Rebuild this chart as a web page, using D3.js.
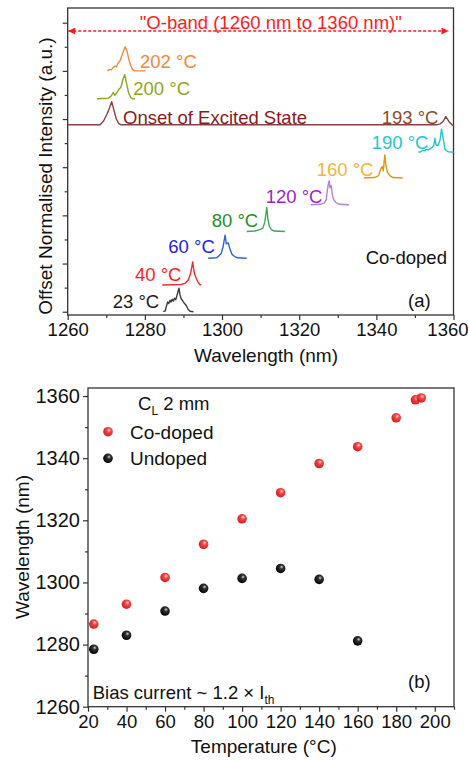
<!DOCTYPE html>
<html>
<head>
<meta charset="utf-8">
<script src="https://cdn.jsdelivr.net/npm/d3@7"></script>
<style>
  html, body { margin: 0; padding: 0; background: #fff; }
  svg { display: block; }
  text { font-family: "Liberation Sans", Arial, sans-serif; }
</style>
</head>
<body>
<svg id="chart" width="469" height="761"></svg>
<script>
// ---------- Panel (a): spectra ----------
const spectraLabels = ["23 °C","40 °C","60 °C","80 °C","120 °C","160 °C","190 °C","193 °C","200 °C","202 °C"];
const spectraOffsets = [0, 0.555, 1.11, 1.665, 2.22, 2.775, 3.31, 3.88, 4.42, 5.0];
const spec23 = [[1284.8,0],[1285.3,0.02],[1285.6,0.12],[1285.9,0.2],[1286.2,0.17],[1286.5,0.24],[1286.8,0.2],[1287.1,0.26],[1287.4,0.22],[1287.7,0.28],[1288.0,0.25],[1288.3,0.33],[1288.6,0.42],[1288.85,0.49],[1289.1,0.36],[1289.4,0.27],[1289.7,0.24],[1290.0,0.2],[1290.4,0.16],[1290.8,0.12],[1291.2,0.05],[1291.7,0.01],[1292.6,0]];
const spec40 = [[1284.5,0],[1289.5,0.01],[1290.5,0.04],[1291.2,0.1],[1291.7,0.2],[1292.0,0.3],[1292.4,0.48],[1292.7,0.3],[1293.0,0.2],[1293.4,0.12],[1293.8,0.06],[1294.2,0.01],[1294.55,0]];
const spec60 = [[1296.4,0],[1298.6,0.01],[1299.2,0.05],[1299.8,0.1],[1300.3,0.25],[1300.8,0.48],[1301.1,0.3],[1301.6,0.32],[1302.1,0.18],[1302.6,0.08],[1303.2,0.04],[1304.0,0.01],[1306.4,0]];
const spec80 = [[1306.4,0],[1308.5,0.01],[1309.8,0.04],[1310.6,0.07],[1311.1,0.2],[1311.6,0.5],[1311.9,0.25],[1312.3,0.1],[1312.8,0.04],[1313.5,0.01],[1316.3,0]];
const spec120 = [[1323.0,0],[1325.5,0.01],[1326.5,0.04],[1327.0,0.1],[1327.3,0.3],[1327.6,0.45],[1327.8,0.5],[1328.0,0.35],[1328.3,0.4],[1328.6,0.2],[1329.0,0.1],[1329.6,0.04],[1330.5,0.01],[1332.9,0]];
const spec160 = [[1336.8,0],[1339.5,0.01],[1340.6,0.05],[1341.2,0.2],[1341.5,0.24],[1341.8,0.15],[1342.2,0.48],[1342.5,0.25],[1342.9,0.12],[1343.5,0.05],[1344.3,0.01],[1346.8,0]];
const spec190 = [[1350.9,0],[1351.5,0.01],[1352.0,0.04],[1352.5,0.03],[1353.0,0.06],[1353.5,0.05],[1354.0,0.08],[1354.5,0.1],[1354.9,0.15],[1355.2,0.29],[1355.5,0.15],[1356.0,0.14],[1356.5,0.25],[1356.9,0.48],[1357.3,0.3],[1357.8,0.06],[1358.6,0.01],[1360,0]];
const spec193 = [[1260,0],[1268.4,0],[1269.3,0.08],[1270.1,0.21],[1270.6,0.3],[1271.4,0.48],[1272.0,0.3],[1272.6,0.12],[1273.2,0.03],[1273.8,0],[1355.5,0],[1356.6,0.02],[1357.4,0.08],[1358.0,0.17],[1358.8,0.07],[1359.5,0.01],[1360,-0.02]];
const spec200 = [[1267.6,0],[1270.5,0.01],[1271.3,0.06],[1271.8,0.13],[1272.2,0.07],[1272.7,0.12],[1273.3,0.2],[1273.8,0.24],[1274.3,0.4],[1274.8,0.5],[1275.3,0.3],[1275.8,0.12],[1276.3,0.03],[1276.8,0],[1277.4,0]];
const spec202 = [[1270.3,0],[1270.8,0.03],[1271.3,0.02],[1271.8,0.07],[1272.3,0.1],[1272.6,0.08],[1273.1,0.17],[1273.5,0.2],[1273.9,0.28],[1274.4,0.4],[1274.9,0.5],[1275.4,0.4],[1275.9,0.22],[1276.4,0.1],[1276.9,0.02],[1277.4,0],[1280.2,0]];
const spectraData = [spec23, spec40, spec60, spec80, spec120, spec160, spec190, spec193, spec200, spec202];
const wavelengthTicksA = [1260, 1280, 1300, 1320, 1340, 1360];

// ---------- Panel (b): peak wavelength vs temperature ----------
const tempCo = [23, 40, 60, 80, 100, 120, 140, 160, 180, 190, 193];
const wlCo   = [1286.6, 1293.0, 1301.6, 1312.3, 1320.5, 1328.9, 1338.3, 1343.7, 1353.0, 1358.8, 1359.4];
const tempUn = [23, 40, 60, 80, 100, 120, 140, 160];
const wlUn   = [1278.5, 1283.0, 1290.8, 1298.1, 1301.3, 1304.5, 1301.0, 1281.2];
const tempTicks = [20, 40, 60, 80, 100, 120, 140, 160, 180, 200];
const wlTicksB = [1260, 1280, 1300, 1320, 1340, 1360];

// ---------- styling ----------
const lineColors  = ["#3c3c3c","#ee2c2c","#2d62e0","#3aa85a","#b67ee0","#d39c12","#22c6c6","#8a4040","#8ea624","#f0883a"];
const labelColors = ["#202020","#ff1e1e","#1e1eee","#1f8f1f","#a01ec8","#f2b440","#22c8c8","#8b4a26","#8ea624","#f0883a"];
const labelPos = [[112.7,301],[135,274],[168.3,246.7],[211.7,220],[265.7,196],[316.7,169.3],[371.7,142.7],[381.7,117],[133.3,88.3],[140,61.7]];

const svg = d3.select("#chart");
const FS = 18.5;

// ===== Panel (a) =====
const xA = d3.scaleLinear().domain([1260, 1360]).range([67.7, 453.5]);
const yA = d3.scaleLinear().domain([-0.068, 6.305]).range([315, 8]);

const gA = svg.append("g");
// axes
const xAxisA = d3.axisBottom(xA).tickValues(wavelengthTicksA).tickSize(5).tickPadding(3).tickFormat(d3.format("d"));
const gxA = gA.append("g").attr("transform", `translate(0,${yA.range()[0]})`).call(xAxisA);
gxA.select(".domain").remove();
gxA.selectAll("text").attr("font-size", FS).attr("font-family", "Liberation Sans, Arial").attr("fill", "#111");
gxA.selectAll("text").filter(d => d === 1360).attr("text-anchor", "end").attr("x", 14.5);
gxA.selectAll("line").attr("stroke", "#333").attr("stroke-width", 1.2);
gA.append("g").attr("transform", `translate(0,${yA.range()[0]})`)
  .call(d3.axisBottom(xA).tickValues(d3.range(1270, 1360, 20)).tickSize(3).tickFormat(""))
  .call(g => { g.select(".domain").remove(); g.selectAll("line").attr("stroke", "#333").attr("stroke-width", 1.2); });

const gyA = gA.append("g").attr("transform", `translate(${xA.range()[0]},0)`)
  .call(d3.axisLeft(yA).tickValues(d3.range(0, 7, 1)).tickSize(5).tickFormat(""));
gyA.select(".domain").remove();
gyA.selectAll("line").attr("stroke", "#333").attr("stroke-width", 1.2);
gA.append("g").attr("transform", `translate(${xA.range()[0]},0)`)
  .call(d3.axisLeft(yA).tickValues(d3.range(0.5, 6.5, 1)).tickSize(3).tickFormat(""))
  .call(g => { g.select(".domain").remove(); g.selectAll("line").attr("stroke", "#333").attr("stroke-width", 1.2); });

// frame
gA.append("rect")
  .attr("x", xA.range()[0]).attr("y", yA.range()[1])
  .attr("width", xA.range()[1] - xA.range()[0]).attr("height", yA.range()[0] - yA.range()[1])
  .attr("fill", "none").attr("stroke", "#333").attr("stroke-width", 1.3);

// spectra
const lineA = d3.line().x(d => xA(d[0])).y(d => yA(d[1]));
spectraData.forEach((s, i) => {
  const pts = s.map(p => [p[0], p[1] + spectraOffsets[i]]);
  gA.append("path").attr("d", lineA(pts)).attr("fill", "none")
    .attr("stroke", lineColors[i]).attr("stroke-width", 1.4).attr("stroke-linejoin", "round");
});

// spectra labels
spectraLabels.forEach((t, i) => {
  gA.append("text").attr("x", labelPos[i][0]).attr("y", labelPos[i][1])
    .attr("dominant-baseline", "central").attr("font-size", FS)
    .attr("fill", labelColors[i]).text(t);
});
gA.append("text").attr("x", 123).attr("y", 117).attr("dominant-baseline", "central")
  .attr("font-size", FS).attr("fill", "#8b1a1a").text("Onset of Excited State");
gA.append("text").attr("x", 365.7).attr("y", 257.3).attr("dominant-baseline", "central")
  .attr("font-size", FS).attr("fill", "#111").text("Co-doped");
gA.append("text").attr("x", 408).attr("y", 300).attr("dominant-baseline", "central")
  .attr("font-size", FS).attr("fill", "#111").text("(a)");

// O-band arrow
const defs = svg.append("defs");
defs.append("marker").attr("id", "arrowEnd").attr("viewBox", "0 0 10 10").attr("refX", 10).attr("refY", 5)
  .attr("markerWidth", 9).attr("markerHeight", 7).attr("markerUnits", "userSpaceOnUse").attr("orient", "auto")
  .append("path").attr("d", "M0,0 L10,5 L0,10 Z").attr("fill", "#ff1a1a");
defs.append("marker").attr("id", "arrowStart").attr("viewBox", "0 0 10 10").attr("refX", 10).attr("refY", 5)
  .attr("markerWidth", 9).attr("markerHeight", 7).attr("markerUnits", "userSpaceOnUse").attr("orient", "auto-start-reverse")
  .append("path").attr("d", "M0,0 L10,5 L0,10 Z").attr("fill", "#ff1a1a");
gA.append("line").attr("x1", xA(1260) + 0.5).attr("x2", xA(1358.7)).attr("y1", 31).attr("y2", 31)
  .attr("stroke", "#ff1a1a").attr("stroke-width", 1.3).attr("stroke-dasharray", "3,2")
  .attr("marker-start", "url(#arrowStart)").attr("marker-end", "url(#arrowEnd)");
gA.append("text").attr("x", 270.8).attr("y", 22.7).attr("text-anchor", "middle").attr("dominant-baseline", "central")
  .attr("font-size", FS).attr("fill", "#ff1a1a").text("\"O-band (1260 nm to 1360 nm)\"");

// axis titles
gA.append("text").attr("x", 266).attr("y", 355).attr("text-anchor", "middle")
  .attr("dominant-baseline", "central").attr("font-size", 19).attr("fill", "#111").text("Wavelength (nm)");
gA.append("text").attr("transform", "translate(45,176) rotate(-90)").attr("text-anchor", "middle")
  .attr("dominant-baseline", "central").attr("font-size", 19).attr("fill", "#111").text("Offset Normalised Intensity (a.u.)");

// ===== Panel (b) =====
const xB = d3.scaleLinear().domain([20, 210]).range([88, 454]);
const yB = d3.scaleLinear().domain([1260, 1362.6]).range([706.7, 388]);
const gB = svg.append("g");

const gxB = gB.append("g").attr("transform", `translate(0,${yB.range()[0]})`)
  .call(d3.axisBottom(xB).tickValues(tempTicks).tickSize(5).tickPadding(3).tickFormat(d3.format("d")));
gxB.select(".domain").remove();
gxB.selectAll("text").attr("font-size", FS).attr("font-family", "Liberation Sans, Arial").attr("fill", "#111");
gxB.selectAll("line").attr("stroke", "#333").attr("stroke-width", 1.2);
gB.append("g").attr("transform", `translate(0,${yB.range()[0]})`)
  .call(d3.axisBottom(xB).tickValues(d3.range(30, 211, 20)).tickSize(3).tickFormat(""))
  .call(g => { g.select(".domain").remove(); g.selectAll("line").attr("stroke", "#333").attr("stroke-width", 1.2); });

const gyB = gB.append("g").attr("transform", `translate(${xB.range()[0]},0)`)
  .call(d3.axisLeft(yB).tickValues(wlTicksB).tickSize(5).tickPadding(3).tickFormat(d3.format("d")));
gyB.select(".domain").remove();
gyB.selectAll("text").attr("font-size", 20).attr("font-family", "Liberation Sans, Arial").attr("fill", "#111");
gyB.selectAll("line").attr("stroke", "#333").attr("stroke-width", 1.2);
gB.append("g").attr("transform", `translate(${xB.range()[0]},0)`)
  .call(d3.axisLeft(yB).tickValues(d3.range(1270, 1360, 20)).tickSize(3).tickFormat(""))
  .call(g => { g.select(".domain").remove(); g.selectAll("line").attr("stroke", "#333").attr("stroke-width", 1.2); });

gB.append("rect")
  .attr("x", xB.range()[0]).attr("y", yB.range()[1])
  .attr("width", xB.range()[1] - xB.range()[0]).attr("height", yB.range()[0] - yB.range()[1])
  .attr("fill", "none").attr("stroke", "#333").attr("stroke-width", 1.3);

// sphere gradients
const gr = defs.append("radialGradient").attr("id", "redBall").attr("cx", "60%").attr("cy", "35%").attr("r", "65%");
gr.append("stop").attr("offset", "0%").attr("stop-color", "#ffd6d6");
gr.append("stop").attr("offset", "35%").attr("stop-color", "#f04848");
gr.append("stop").attr("offset", "100%").attr("stop-color", "#d41c1c");
const gk = defs.append("radialGradient").attr("id", "blackBall").attr("cx", "60%").attr("cy", "35%").attr("r", "65%");
gk.append("stop").attr("offset", "0%").attr("stop-color", "#d8d8d8");
gk.append("stop").attr("offset", "30%").attr("stop-color", "#333");
gk.append("stop").attr("offset", "100%").attr("stop-color", "#000");

const R = 4.8;
gB.selectAll("circle.un").data(tempUn.map((t, i) => [t, wlUn[i]])).join("circle")
  .attr("class", "un").attr("cx", d => xB(d[0])).attr("cy", d => yB(d[1])).attr("r", R).attr("fill", "url(#blackBall)");
gB.selectAll("circle.co").data(tempCo.map((t, i) => [t, wlCo[i]])).join("circle")
  .attr("class", "co").attr("cx", d => xB(d[0])).attr("cy", d => yB(d[1])).attr("r", R).attr("fill", "url(#redBall)");

// legend
const cl = gB.append("text").attr("x", 138).attr("y", 409.5).attr("font-size", FS).attr("fill", "#111");
cl.append("tspan").text("C");
cl.append("tspan").attr("font-size", 12).attr("dy", 5).text("L");
cl.append("tspan").attr("dy", -5).text(" 2 mm");
gB.append("circle").attr("cx", 108).attr("cy", 431.7).attr("r", R).attr("fill", "url(#redBall)");
gB.append("text").attr("x", 130).attr("y", 432).attr("dominant-baseline", "central").attr("font-size", 19).attr("fill", "#111").text("Co-doped");
gB.append("circle").attr("cx", 108).attr("cy", 458.3).attr("r", R).attr("fill", "url(#blackBall)");
gB.append("text").attr("x", 130).attr("y", 458.5).attr("dominant-baseline", "central").attr("font-size", 19).attr("fill", "#111").text("Undoped");

const bias = gB.append("text").attr("x", 92.7).attr("y", 699).attr("font-size", FS).attr("fill", "#111");
bias.append("tspan").text("Bias current ~ 1.2 × I");
bias.append("tspan").attr("font-size", 12).attr("dy", 5).text("th");
gB.append("text").attr("x", 408).attr("y", 681.7).attr("dominant-baseline", "central").attr("font-size", FS).attr("fill", "#111").text("(b)");

gB.append("text").attr("x", 263.8).attr("y", 746.7).attr("text-anchor", "middle").attr("dominant-baseline", "central")
  .attr("font-size", 19).attr("fill", "#111").text("Temperature (°C)");
gB.append("text").attr("transform", "translate(22.5,547) rotate(-90)").attr("text-anchor", "middle")
  .attr("dominant-baseline", "central").attr("font-size", 19).attr("fill", "#111").text("Wavelength (nm)");
</script>
</body>
</html>
